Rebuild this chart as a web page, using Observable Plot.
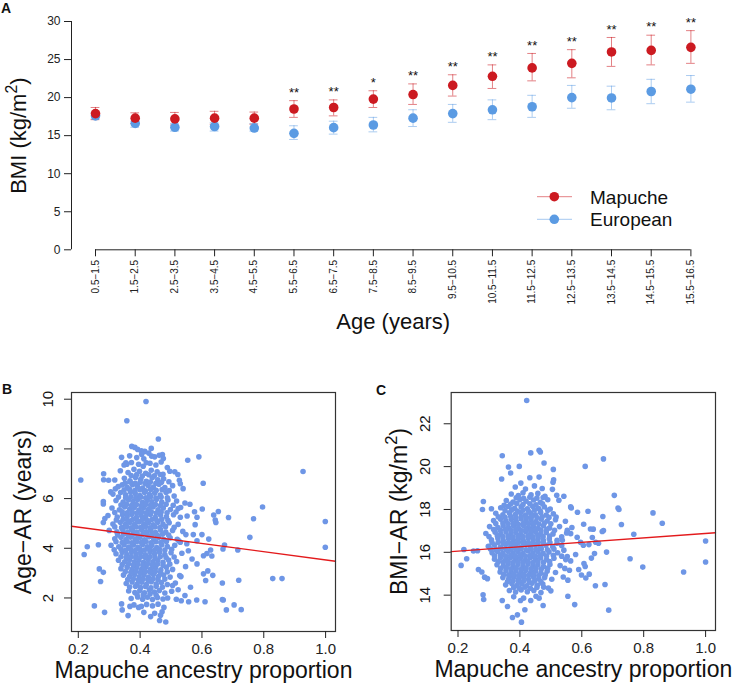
<!DOCTYPE html>
<html><head><meta charset="utf-8">
<script src="https://cdn.jsdelivr.net/npm/d3@7"></script>
<script src="https://cdn.jsdelivr.net/npm/@observablehq/plot@0.6"></script>
<style>
body{margin:0;background:#fff;}
#fig{position:relative;width:732px;height:691px;overflow:hidden;background:#fff;font-family:"Liberation Sans",Arial,Helvetica,sans-serif;color:#111;}
.panel{position:absolute;}
.letter{position:absolute;font-weight:bold;font-size:14px;line-height:14px;}
</style></head><body>
<div id="fig">
 <div class="panel" id="pa" style="left:0;top:0"></div>
 <div class="panel" id="pb" style="left:0;top:360px"></div>
 <div class="panel" id="pc" style="left:370px;top:360px"></div>
 <div class="panel" id="legend" style="left:530px;top:185px"></div>
 <div class="letter" style="left:1px;top:1px">A</div>
 <div class="letter" style="left:2px;top:382px">B</div>
 <div class="letter" style="left:376px;top:383px">C</div>
</div>
<script>
// ---------------- Panel A data ----------------
const ageGroups = ["0.5−1.5","1.5−2.5","2.5−3.5","3.5−4.5","4.5−5.5","5.5−6.5","6.5−7.5","7.5−8.5",
  "8.5−9.5","9.5−10.5","10.5−11.5","11.5−12.5","12.5−13.5","13.5−14.5","14.5−15.5","15.5−16.5"];
const mapucheBMI = [17.9,17.3,17.2,17.3,17.3,18.5,18.7,19.8,20.4,21.6,22.8,23.9,24.5,26.0,26.2,26.6];
const mapucheLo  = [17.1,16.6,16.4,16.5,16.5,17.4,17.6,18.7,19.1,20.2,21.2,22.2,22.6,24.1,24.3,24.5];
const mapucheHi  = [18.7,18.0,18.05,18.2,18.1,19.6,19.7,20.9,21.8,23.0,24.3,25.8,26.3,27.9,28.2,28.8];
const europeanBMI = [17.6,16.6,16.1,16.2,16.0,15.3,16.05,16.4,17.3,17.9,18.4,18.8,20.0,19.95,20.8,21.1];
const europeanLo  = [17.2,16.1,15.6,15.6,15.6,14.5,15.2,15.5,16.2,16.75,17.1,17.4,18.6,18.4,19.2,19.4];
const europeanHi  = [18.0,16.9,16.6,16.7,16.6,16.3,16.9,17.4,18.4,19.1,19.7,20.3,21.6,21.5,22.4,22.9];
const significance = ["","","","","","**","**","*","**","**","**","**","**","**","**","**"];
const bmiTicks = [0,5,10,15,20,25,30];
const seriesNames = ["Mapuche","European"];

// ---------------- Panel B data (ancestry, age at adiposity rebound) ----------------
const ageARPoints = [
 [0.419,9.91],[0.357,9.13],[0.459,8.40],[0.373,8.10],[0.383,8.06],[0.428,7.83],[0.437,7.71],[0.472,7.77],
 [0.475,7.61],[0.340,7.66],[0.554,7.54],[0.590,7.68],[0.354,7.44],[0.357,7.38],[0.420,7.44],[0.512,7.08],
 [0.522,6.97],[0.282,7.00],[0.208,6.75],[0.282,6.76],[0.298,6.74],[0.604,6.62],[0.561,5.77],[0.576,5.47],
 [0.281,5.88],[0.281,5.78],[0.305,6.27],[0.320,6.39],[0.523,5.60],[0.927,7.09],[0.796,5.66],[0.601,5.58],
 [0.653,5.48],[0.638,5.34],[0.643,5.14],[0.645,5.04],[0.686,5.24],[0.767,5.19],[0.999,5.08],[0.755,4.44],
 [0.999,4.04],[0.600,4.55],[0.622,4.37],[0.673,4.13],[0.668,3.97],[0.716,3.93],[0.628,3.93],[0.616,3.79],
 [0.605,3.70],[0.632,3.69],[0.605,2.97],[0.619,3.09],[0.635,2.91],[0.612,2.70],[0.666,2.60],[0.719,2.71],
 [0.829,2.78],[0.859,2.78],[0.610,1.85],[0.666,1.94],[0.669,1.92],[0.704,1.72],[0.679,1.52],[0.727,1.53],
 [0.229,4.06],[0.219,3.75],[0.265,4.14],[0.268,3.17],[0.281,3.03],[0.272,2.66],[0.252,1.68],[0.285,1.42],
 [0.340,1.76],[0.342,1.52],[0.367,1.66],[0.361,1.29],[0.395,1.62],[0.434,1.25],[0.463,1.09],[0.483,1.03],
 [0.471,1.44],[0.533,1.89],[0.557,1.85],[0.583,1.92],[0.489,2.00],[0.563,2.43],[0.523,2.33],[0.286,5.20],
 [0.281,5.04],[0.530,6.60],[0.530,5.25],[0.584,5.25],[0.578,4.95],[0.572,4.55],[0.548,4.55],[0.551,4.18],
 [0.584,4.30],[0.568,3.57],[0.584,3.37],[0.547,3.26],[0.532,2.86],[0.545,2.10],[0.517,1.95],[0.505,2.50],
 [0.556,3.90],[0.525,4.30],
 [0.392,7.98],[0.404,7.92],[0.436,8.02],[0.415,7.90],
 [0.366,7.72],[0.389,7.65],[0.405,7.78],[0.447,7.68],[0.462,7.74],[0.412,7.60],
 [0.348,7.35],[0.372,7.45],[0.395,7.38],[0.410,7.30],[0.432,7.42],[0.451,7.35],[0.468,7.47],[0.488,7.25],
 [0.336,7.12],[0.361,7.05],[0.380,7.18],[0.398,7.10],[0.418,7.02],[0.436,7.14],[0.455,7.08],[0.474,6.98],[0.496,7.10],
 [0.318,6.75],[0.349,6.82],[0.367,6.72],[0.385,6.85],[0.402,6.78],[0.420,6.70],[0.439,6.84],[0.457,6.76],[0.476,6.80],[0.493,6.68],[0.527,6.74],
 [0.329,6.48],[0.342,6.55],[0.358,6.45],[0.375,6.56],[0.391,6.50],[0.408,6.42],[0.426,6.53],[0.443,6.46],[0.461,6.58],[0.480,6.44],[0.505,6.52],[0.539,6.40],
 [0.312,6.18],[0.337,6.24],[0.353,6.15],[0.369,6.26],[0.384,6.20],[0.399,6.12],[0.414,6.25],[0.430,6.16],[0.447,6.22],[0.465,6.14],[0.484,6.24],[0.510,6.10],
 [0.322,5.92],[0.345,5.86],[0.362,5.95],[0.377,5.88],[0.392,5.96],[0.407,5.85],[0.423,5.93],[0.438,5.87],[0.453,5.97],[0.470,5.86],[0.490,5.94],[0.518,5.90],[0.545,5.82],
 [0.309,5.62],[0.333,5.55],[0.350,5.66],[0.366,5.58],[0.381,5.64],[0.396,5.54],[0.411,5.63],[0.427,5.57],[0.442,5.66],[0.458,5.55],[0.475,5.62],[0.498,5.56],[0.531,5.64],
 [0.296,5.32],[0.326,5.26],[0.343,5.35],[0.358,5.28],[0.373,5.36],[0.388,5.24],[0.403,5.33],[0.418,5.27],[0.433,5.36],[0.449,5.25],[0.466,5.34],[0.485,5.27],[0.508,5.35],[0.552,5.30],
 [0.312,4.98],[0.336,5.05],[0.352,4.96],[0.367,5.04],[0.382,4.95],[0.397,5.06],[0.412,4.97],[0.427,5.03],[0.442,4.94],[0.457,5.05],[0.474,4.97],[0.494,5.03],[0.523,4.96],
 [0.300,4.72],[0.325,4.66],[0.344,4.74],[0.360,4.65],[0.375,4.73],[0.390,4.64],[0.405,4.75],[0.420,4.66],[0.435,4.72],[0.450,4.63],[0.466,4.74],[0.483,4.65],[0.505,4.72],[0.538,4.68],
 [0.318,4.38],[0.338,4.44],[0.354,4.35],[0.369,4.45],[0.384,4.36],[0.399,4.43],[0.414,4.34],[0.429,4.46],[0.444,4.37],[0.460,4.44],[0.477,4.35],[0.497,4.42],[0.520,4.36],
 [0.306,4.12],[0.331,4.06],[0.348,4.14],[0.363,4.05],[0.378,4.13],[0.393,4.04],[0.408,4.15],[0.423,4.06],[0.438,4.12],[0.454,4.03],[0.470,4.14],[0.488,4.07],[0.512,4.12],
 [0.322,3.78],[0.342,3.84],[0.357,3.75],[0.372,3.85],[0.387,3.76],[0.402,3.83],[0.417,3.74],[0.432,3.86],[0.447,3.77],[0.463,3.84],[0.480,3.75],[0.500,3.82],[0.535,3.80],
 [0.330,3.52],[0.350,3.46],[0.366,3.54],[0.381,3.45],[0.396,3.53],[0.411,3.44],[0.426,3.55],[0.441,3.46],[0.457,3.52],[0.474,3.44],[0.492,3.53],[0.518,3.47],
 [0.338,3.18],[0.358,3.24],[0.374,3.15],[0.389,3.23],[0.404,3.14],[0.419,3.25],[0.434,3.16],[0.450,3.22],[0.467,3.13],[0.485,3.24],[0.505,3.15],
 [0.346,2.92],[0.366,2.86],[0.382,2.94],[0.397,2.85],[0.412,2.93],[0.427,2.84],[0.443,2.95],[0.459,2.86],[0.476,2.92],[0.497,2.84],[0.528,2.90],
 [0.355,2.58],[0.374,2.64],[0.390,2.55],[0.405,2.63],[0.420,2.54],[0.436,2.65],[0.452,2.56],[0.469,2.62],[0.488,2.54],[0.514,2.60],
 [0.363,2.28],[0.383,2.22],[0.399,2.30],[0.414,2.21],[0.430,2.32],[0.446,2.24],[0.462,2.30],[0.480,2.20],[0.502,2.27],
 [0.371,1.98],[0.392,2.04],[0.408,1.95],[0.424,2.03],[0.440,1.94],[0.456,2.02],[0.474,1.96],
 [0.380,1.72],[0.404,1.66],[0.421,1.74],[0.440,1.68],[0.458,1.75],[0.477,1.62],
 [0.412,1.42],[0.447,1.38],[0.466,1.30],
 [0.371,6.93],[0.389,6.97],[0.407,6.91],[0.428,6.96],[0.446,6.92],[0.465,6.97],
 [0.352,6.63],[0.368,6.67],[0.384,6.62],[0.400,6.66],[0.416,6.61],[0.433,6.67],[0.451,6.62],[0.469,6.66],
 [0.348,6.34],[0.366,6.37],[0.383,6.32],[0.399,6.36],[0.417,6.31],[0.434,6.37],[0.452,6.33],[0.471,6.36],[0.494,6.32],
 [0.330,6.06],[0.353,6.03],[0.370,6.07],[0.386,6.02],[0.402,6.06],[0.418,6.03],[0.434,6.07],[0.451,6.02],[0.468,6.06],[0.488,6.03],
 [0.338,5.74],[0.356,5.77],[0.372,5.72],[0.388,5.76],[0.403,5.71],[0.419,5.77],[0.434,5.73],[0.450,5.76],[0.466,5.72],[0.484,5.77],[0.507,5.73],
 [0.318,5.44],[0.342,5.47],[0.358,5.43],[0.374,5.47],[0.389,5.42],[0.405,5.46],[0.420,5.43],[0.436,5.47],[0.452,5.42],[0.468,5.46],[0.487,5.43],[0.516,5.46],
 [0.323,5.14],[0.345,5.17],[0.360,5.12],[0.376,5.16],[0.391,5.11],[0.407,5.17],[0.422,5.13],[0.438,5.16],[0.454,5.12],[0.470,5.17],[0.490,5.13],
 [0.318,4.86],[0.340,4.83],[0.356,4.87],[0.371,4.82],[0.387,4.86],[0.402,4.83],[0.417,4.87],[0.432,4.82],[0.448,4.86],[0.464,4.83],[0.482,4.87],[0.510,4.84],
 [0.327,4.54],[0.347,4.57],[0.362,4.52],[0.378,4.56],[0.393,4.51],[0.409,4.57],[0.424,4.53],[0.440,4.56],[0.456,4.52],[0.473,4.57],[0.492,4.53],
 [0.322,4.26],[0.342,4.23],[0.358,4.27],[0.373,4.22],[0.389,4.26],[0.404,4.23],[0.419,4.27],[0.435,4.22],[0.451,4.26],[0.467,4.23],[0.485,4.27],[0.530,4.24],
 [0.316,3.94],[0.338,3.97],[0.353,3.92],[0.369,3.96],[0.384,3.91],[0.399,3.97],[0.414,3.93],[0.430,3.96],[0.446,3.92],[0.462,3.97],[0.480,3.93],[0.502,3.96],
 [0.338,3.66],[0.355,3.63],[0.371,3.67],[0.386,3.62],[0.402,3.66],[0.417,3.63],[0.432,3.67],[0.448,3.62],[0.465,3.66],[0.484,3.63],[0.510,3.65],
 [0.342,3.34],[0.362,3.37],[0.378,3.32],[0.393,3.36],[0.409,3.31],[0.424,3.37],[0.440,3.33],[0.456,3.36],[0.474,3.32],[0.496,3.36],
 [0.352,3.06],[0.370,3.03],[0.386,3.07],[0.401,3.02],[0.417,3.06],[0.433,3.03],[0.449,3.07],[0.466,3.02],[0.488,3.05],
 [0.360,2.74],[0.378,2.77],[0.394,2.72],[0.410,2.76],[0.426,2.71],[0.442,2.77],[0.458,2.73],[0.480,2.76],
 [0.366,2.44],[0.385,2.47],[0.402,2.42],[0.418,2.46],[0.435,2.41],[0.452,2.47],[0.472,2.43],
 [0.390,2.14],[0.410,2.12],[0.432,2.16],[0.452,2.11]
];
const ageARFit = {intercept: 5.18, slope: -1.65};

// ---------------- Panel C data (ancestry, BMI at adiposity rebound) ----------------
const bmiARPoints = [
 [0.422,23.09],[0.343,20.51],[0.435,20.64],[0.462,20.76],[0.466,20.68],[0.478,20.17],[0.363,19.98],[0.398,20.01],
 [0.370,19.70],[0.508,19.87],[0.611,20.01],[0.341,19.42],[0.432,19.48],[0.462,19.51],[0.403,19.23],[0.509,19.39],
 [0.507,19.27],[0.505,18.94],[0.519,18.66],[0.542,18.62],[0.566,18.07],[0.586,17.87],[0.282,18.37],[0.279,18.00],
 [0.308,18.03],[0.349,18.19],[0.670,20.36],[0.705,18.66],[0.717,18.07],[0.720,18.00],[0.830,17.84],[0.860,17.36],
 [0.620,17.92],[0.668,17.67],[0.606,17.31],[0.628,17.09],[0.637,17.08],[0.670,17.02],[0.666,16.97],[0.728,17.30],
 [0.768,16.84],[0.634,16.69],[0.645,16.47],[0.654,16.42],[0.596,16.47],[0.605,16.33],[0.623,16.36],[1.000,16.53],
 [0.680,16.01],[0.756,15.70],[0.641,15.94],[0.631,15.73],[0.797,15.31],[1.000,15.55],[0.929,15.08],[0.607,15.48],
 [0.611,15.34],[0.599,14.94],[0.613,14.80],[0.624,14.98],[0.644,14.44],[0.675,14.50],[0.687,13.30],[0.210,15.39],
 [0.228,15.70],[0.219,16.13],[0.250,16.06],[0.263,16.07],[0.266,15.20],[0.277,15.08],[0.286,14.84],[0.295,14.77],
 [0.281,14.02],[0.283,13.80],[0.343,13.75],[0.360,13.47],[0.376,12.96],[0.392,13.08],[0.405,12.74],[0.416,13.32],
 [0.402,13.75],[0.435,13.75],[0.462,13.86],[0.492,14.33],[0.555,13.95],[0.577,13.56],
 [0.526,18.43],[0.517,17.65],[0.564,18.12],[0.568,17.16],[0.553,17.03],[0.564,16.87],[0.537,16.56],[0.542,16.10],
 [0.553,15.80],[0.564,15.60],[0.545,15.25],[0.560,15.16],[0.540,14.85],[0.555,14.70],[0.477,14.37],[0.500,14.20],
 [0.475,13.52],[0.585,16.70],[0.580,15.90],[0.590,15.20],
 [0.385,19.05],[0.418,18.95],[0.447,19.10],[0.472,18.98],
 [0.372,18.72],[0.395,18.65],[0.410,18.78],[0.436,18.68],[0.458,18.75],[0.481,18.62],
 [0.356,18.42],[0.378,18.35],[0.400,18.46],[0.420,18.38],[0.444,18.44],[0.466,18.34],[0.490,18.45],
 [0.338,18.08],[0.362,18.14],[0.383,18.05],[0.404,18.12],[0.424,18.03],[0.441,18.15],[0.460,18.06],[0.479,18.12],[0.498,18.02],
 [0.322,17.82],[0.345,17.75],[0.366,17.84],[0.385,17.76],[0.402,17.85],[0.418,17.74],[0.434,17.83],[0.450,17.75],[0.467,17.86],[0.485,17.74],[0.508,17.80],
 [0.315,17.48],[0.337,17.55],[0.355,17.46],[0.372,17.54],[0.388,17.45],[0.404,17.56],[0.420,17.47],[0.436,17.53],[0.452,17.44],[0.469,17.55],[0.488,17.46],[0.515,17.52],[0.547,17.45],
 [0.302,17.20],[0.329,17.16],[0.346,17.24],[0.363,17.14],[0.379,17.23],[0.395,17.13],[0.411,17.25],[0.427,17.15],[0.443,17.22],[0.459,17.12],[0.476,17.24],[0.496,17.14],[0.528,17.20],
 [0.290,16.88],[0.320,16.94],[0.338,16.85],[0.355,16.95],[0.371,16.86],[0.387,16.93],[0.403,16.84],[0.419,16.96],[0.435,16.87],[0.451,16.94],[0.467,16.85],[0.485,16.93],[0.507,16.86],[0.551,16.90],
 [0.308,16.58],[0.329,16.64],[0.346,16.55],[0.363,16.65],[0.379,16.56],[0.395,16.63],[0.411,16.54],[0.427,16.66],[0.443,16.57],[0.459,16.64],[0.476,16.55],[0.495,16.63],[0.520,16.56],
 [0.298,16.28],[0.318,16.34],[0.337,16.25],[0.354,16.35],[0.370,16.26],[0.386,16.33],[0.402,16.24],[0.418,16.36],[0.434,16.27],[0.450,16.34],[0.466,16.25],[0.484,16.33],[0.506,16.26],[0.535,16.32],
 [0.310,15.98],[0.328,16.04],[0.345,15.95],[0.362,16.05],[0.378,15.96],[0.394,16.03],[0.410,15.94],[0.426,16.06],[0.442,15.97],[0.458,16.04],[0.475,15.95],[0.494,16.02],[0.522,15.98],
 [0.318,15.68],[0.337,15.74],[0.354,15.65],[0.370,15.75],[0.386,15.66],[0.402,15.73],[0.418,15.64],[0.434,15.76],[0.450,15.67],[0.467,15.74],[0.486,15.65],[0.510,15.72],[0.548,15.66],
 [0.326,15.42],[0.346,15.36],[0.362,15.44],[0.378,15.35],[0.394,15.43],[0.410,15.34],[0.426,15.45],[0.442,15.36],[0.458,15.42],[0.476,15.34],[0.497,15.43],[0.530,15.38],
 [0.336,15.08],[0.355,15.14],[0.371,15.05],[0.387,15.13],[0.403,15.04],[0.419,15.15],[0.435,15.06],[0.451,15.12],[0.468,15.03],[0.488,15.12],[0.515,15.06],
 [0.345,14.82],[0.364,14.76],[0.380,14.84],[0.396,14.75],[0.412,14.83],[0.428,14.74],[0.444,14.85],[0.461,14.76],[0.480,14.82],[0.503,14.74],
 [0.354,14.48],[0.374,14.54],[0.390,14.45],[0.406,14.53],[0.422,14.44],[0.439,14.55],[0.456,14.46],[0.474,14.52],
 [0.366,14.22],[0.386,14.15],[0.404,14.24],[0.424,14.16],[0.445,14.22],[0.468,14.12],
 [0.380,13.92],[0.412,13.86],[0.452,13.95],
 [0.388,18.55],[0.412,18.52],[0.432,18.57],[0.455,18.53],[0.475,18.56],
 [0.370,18.25],[0.390,18.28],[0.410,18.23],[0.432,18.27],[0.452,18.22],[0.473,18.27],
 [0.352,17.95],[0.373,17.98],[0.392,17.93],[0.410,17.97],[0.428,17.92],[0.447,17.98],[0.466,17.93],[0.490,17.96],
 [0.330,17.66],[0.352,17.63],[0.370,17.67],[0.387,17.62],[0.404,17.66],[0.421,17.63],[0.438,17.67],[0.455,17.62],[0.472,17.66],[0.494,17.63],
 [0.322,17.34],[0.345,17.37],[0.362,17.33],[0.379,17.36],[0.395,17.31],[0.412,17.37],[0.428,17.33],[0.444,17.36],[0.461,17.32],[0.479,17.37],[0.500,17.33],
 [0.315,17.06],[0.337,17.03],[0.354,17.07],[0.371,17.02],[0.387,17.06],[0.403,17.03],[0.419,17.07],[0.435,17.02],[0.451,17.06],[0.468,17.03],[0.487,17.07],[0.512,17.03],
 [0.300,16.74],[0.327,16.77],[0.345,16.73],[0.362,16.76],[0.378,16.71],[0.394,16.77],[0.410,16.73],[0.426,16.76],[0.442,16.72],[0.458,16.77],[0.475,16.73],[0.496,16.76],[0.535,16.72],
 [0.310,16.44],[0.330,16.47],[0.347,16.42],[0.363,16.46],[0.379,16.41],[0.395,16.47],[0.411,16.43],[0.427,16.46],[0.443,16.42],[0.459,16.47],[0.476,16.43],[0.497,16.46],[0.520,16.42],
 [0.305,16.16],[0.322,16.13],[0.340,16.17],[0.356,16.12],[0.372,16.16],[0.388,16.13],[0.404,16.17],[0.420,16.12],[0.436,16.16],[0.452,16.13],[0.469,16.17],[0.489,16.12],[0.510,16.15],
 [0.318,15.84],[0.337,15.87],[0.354,15.82],[0.370,15.86],[0.386,15.81],[0.402,15.87],[0.418,15.83],[0.434,15.86],[0.450,15.82],[0.467,15.87],[0.486,15.83],[0.508,15.86],[0.535,15.82],
 [0.330,15.56],[0.346,15.53],[0.362,15.57],[0.378,15.52],[0.394,15.56],[0.410,15.53],[0.426,15.57],[0.442,15.52],[0.458,15.56],[0.476,15.53],[0.496,15.57],
 [0.338,15.24],[0.356,15.27],[0.372,15.22],[0.388,15.26],[0.404,15.21],[0.420,15.27],[0.436,15.23],[0.452,15.26],[0.469,15.22],[0.490,15.26],
 [0.348,14.96],[0.364,14.93],[0.380,14.97],[0.396,14.92],[0.412,14.96],[0.428,14.93],[0.444,14.97],[0.461,14.92],[0.482,14.95],
 [0.360,14.64],[0.378,14.67],[0.395,14.62],[0.412,14.66],[0.430,14.61],[0.448,14.67],[0.468,14.63],
 [0.380,14.36],[0.398,14.33],[0.416,14.37],[0.434,14.32],[0.455,14.36]
];
const bmiARFit = {intercept: 15.85, slope: 1.03};
const ancestryTicks = [0.2,0.4,0.6,0.8,1.0];
const ageARTicks = [2,4,6,8,10];
const bmiARTicks = [14,16,18,20,22];

// ---------------- styling ----------------
const FONT = "Liberation Sans, Arial, Helvetica, sans-serif";
const RED = "#CC1A21", BLUE = "#5B9BE3", POINT = "#6E96E6", FIT = "#E31A1C", AXIS = "#222";

function superscript(svg, fontPx) {
  d3.select(svg).selectAll("text").each(function() {
    const t = this.textContent;
    if (t.includes("^2")) {
      const [pre, post] = t.split("^2");
      const sel = d3.select(this);
      sel.text(null);
      sel.append("tspan").text(pre);
      sel.append("tspan").attr("dy", -0.4 * fontPx).attr("font-size", 0.72 * fontPx).text("2");
      sel.append("tspan").attr("dy", 0.4 * fontPx).text(post);
    }
  });
}

// ---------------- Panel A ----------------
const rowsA = ageGroups.map((g, k) => ({
  i: k + 1, g, m: mapucheBMI[k], mlo: mapucheLo[k], mhi: mapucheHi[k],
  e: europeanBMI[k], elo: europeanLo[k], ehi: europeanHi[k], sig: significance[k]
}));
const xDomA = [0.395, ageGroups.length];
const cap = 0.11;
const plotA = Plot.plot({
  width: 732, height: 345,
  marginLeft: 71, marginRight: 41.6, marginTop: 21, marginBottom: 95.7,
  x: {type: "linear", domain: xDomA},
  y: {domain: [0, 30]},
  style: {fontFamily: FONT, background: "transparent", overflow: "visible", color: AXIS},
  marks: [
    Plot.ruleX([xDomA[0]], {y1: 0, y2: 30, stroke: AXIS}),
    Plot.axisY({ticks: bmiTicks, tickSize: 7, tickPadding: 4, fontSize: 12, label: null}),
    Plot.ruleY([0], {x1: 1, x2: ageGroups.length, stroke: AXIS}),
    Plot.axisX({ticks: rowsA.map(d => d.i), tickFormat: i => ageGroups[i - 1], tickRotate: -90,
      tickSize: 7, tickPadding: 3, fontSize: 10, label: null}),
    Plot.ruleX(rowsA, {x: "i", y1: "elo", y2: "ehi", stroke: BLUE, strokeOpacity: 0.5}),
    Plot.ruleY(rowsA, {y: "elo", x1: d => d.i - cap, x2: d => d.i + cap, stroke: BLUE, strokeOpacity: 0.5}),
    Plot.ruleY(rowsA, {y: "ehi", x1: d => d.i - cap, x2: d => d.i + cap, stroke: BLUE, strokeOpacity: 0.5}),
    Plot.ruleX(rowsA, {x: "i", y1: "mlo", y2: "mhi", stroke: RED, strokeOpacity: 0.55}),
    Plot.ruleY(rowsA, {y: "mlo", x1: d => d.i - cap, x2: d => d.i + cap, stroke: RED, strokeOpacity: 0.55}),
    Plot.ruleY(rowsA, {y: "mhi", x1: d => d.i - cap, x2: d => d.i + cap, stroke: RED, strokeOpacity: 0.55}),
    Plot.dot(rowsA, {x: "i", y: "e", r: 4.8, fill: BLUE}),
    Plot.dot(rowsA, {x: "i", y: "m", r: 4.8, fill: RED}),
    Plot.text(rowsA, {x: "i", y: "mhi", text: "sig", dy: -8, fontSize: 13, fill: "#111"}),
    Plot.text(["Age (years)"], {frameAnchor: "bottom", dy: 79, dx: 12, fontSize: 22, fill: "#111"}),
    Plot.text(["BMI (kg/m^2)"], {frameAnchor: "left", dx: -53, rotate: -90, textAnchor: "middle", fontSize: 22, fill: "#111"})
  ]
});
superscript(plotA, 22);
document.getElementById("pa").appendChild(plotA);

// legend
const legendSvg = d3.select("#legend").append("svg").attr("width", 200).attr("height", 56)
  .style("font-family", FONT).style("overflow", "visible");
[RED, BLUE].forEach((c, k) => {
  const y = 11.7 + k * 22.6;
  legendSvg.append("line").attr("x1", 7).attr("x2", 42).attr("y1", y).attr("y2", y)
    .attr("stroke", c).attr("stroke-opacity", 0.55);
  legendSvg.append("circle").attr("cx", 24.3).attr("cy", y).attr("r", 4.8).attr("fill", c);
  legendSvg.append("text").attr("x", 60).attr("y", y + 7).attr("font-size", 19).attr("fill", "#111")
    .text(seriesNames[k]);
});

// ---------------- Panels B and C ----------------
function scatter({points, fit, yDomain, yTicks, yLabel, width, marginLeft, marginRight, marginBottom, tickDx, labelDx}) {
  const xDom = [0.178, 1.032];
  const fitLine = xDom.map(x => ({x, y: fit.intercept + fit.slope * x}));
  const svg = Plot.plot({
    width, height: 331,
    marginLeft, marginRight, marginTop: 32, marginBottom,
    x: {domain: xDom},
    y: {domain: yDomain},
    style: {fontFamily: FONT, background: "transparent", overflow: "visible", color: AXIS},
    marks: [
      Plot.dot(points, {x: d => d[0], y: d => d[1], r: 2.8, fill: POINT}),
      Plot.line(fitLine, {x: "x", y: "y", stroke: FIT, strokeWidth: 1.3}),
      Plot.frame({stroke: "#333", strokeWidth: 1.2}),
      Plot.axisX({ticks: ancestryTicks, tickFormat: d3.format(".1f"), tickSize: 7, tickPadding: 5, fontSize: 15, label: null}),
      Plot.axisY({ticks: yTicks, tickSize: 7, tickFormat: () => "", label: null}),
      Plot.text(yTicks, {y: d => d, text: d => String(d), frameAnchor: "left", dx: tickDx, rotate: -90, textAnchor: "middle", fontSize: 15, fill: "#111"}),
      Plot.text(["Mapuche ancestry proportion"], {frameAnchor: "bottom", dy: 46, fontSize: 23, fill: "#111"}),
      Plot.text([yLabel], {frameAnchor: "left", dx: labelDx, rotate: -90, textAnchor: "middle", fontSize: 23, fill: "#111"})
    ]
  });
  superscript(svg, 23);
  return svg;
}

document.getElementById("pb").appendChild(scatter({
  points: ageARPoints, fit: ageARFit, yDomain: [0.65, 10.27], yTicks: ageARTicks,
  yLabel: "Age−AR (years)", width: 366, marginLeft: 71, marginRight: 31, marginBottom: 60,
  tickDx: -23, labelDx: -48
}));
document.getElementById("pc").appendChild(scatter({
  points: bmiARPoints, fit: bmiARFit, yDomain: [12.35, 23.46], yTicks: bmiARTicks,
  yLabel: "BMI−AR (kg/m^2)", width: 362, marginLeft: 80.7, marginRight: 17, marginBottom: 61,
  tickDx: -26, labelDx: -52
}));
</script>
</body></html>
